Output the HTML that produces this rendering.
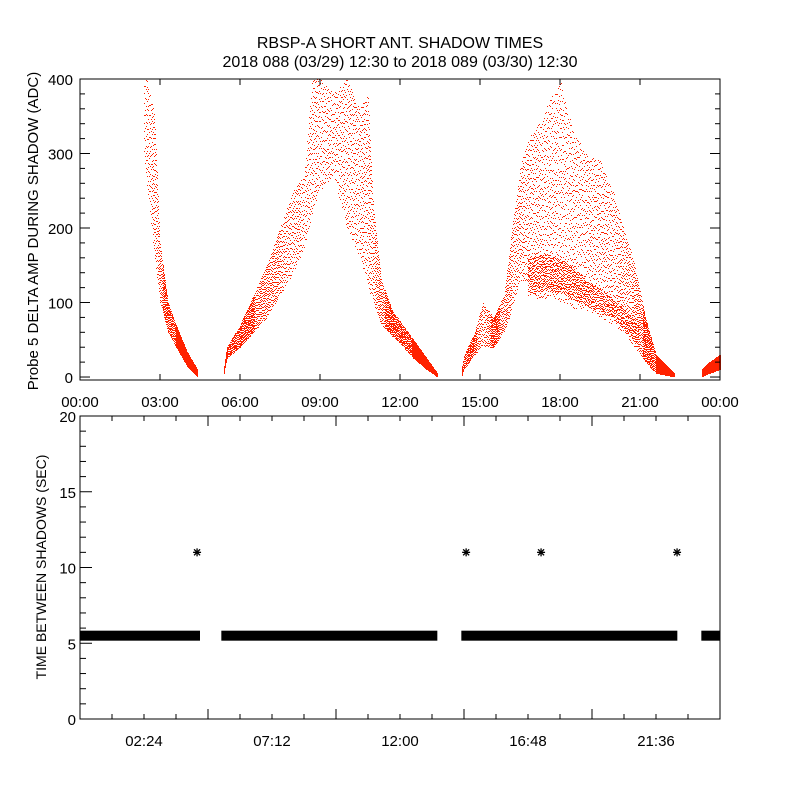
<!DOCTYPE html>
<html><head><meta charset="utf-8">
<style>
html,body{margin:0;padding:0;background:#fff;}
svg text{font-family:"Liberation Sans",sans-serif;fill:#000;}
#topPanel rect{shape-rendering:crispEdges;}
</style></head>
<body>
<svg id="chart" width="800" height="800" viewBox="0 0 800 800" xmlns="http://www.w3.org/2000/svg">
<rect x="0" y="0" width="800" height="800" fill="#fff"/>
<text x="400" y="48" font-size="16" text-anchor="middle">RBSP-A SHORT ANT. SHADOW TIMES</text>
<text x="400" y="67" font-size="16" text-anchor="middle">2018 088 (03/29) 12:30 to 2018 089 (03/30) 12:30</text>
<g id="topPanel"></g>
<g id="botPanel"></g>
</svg>
<script>
// ---- top panel data: envelope per segment (hours, low, high, density 0..1)
const seg1Hours=[2.4,2.5,2.8,3.0,3.3,3.6,4.0,4.4];
const seg1Low=[300,260,160,100,60,40,15,0];
const seg1High=[400,400,350,180,100,70,35,10];
const seg1Dens=[0.35,0.4,0.45,0.6,0.85,0.9,0.95,0.95];
const seg2Hours=[5.4,5.5,6.0,6.5,7.0,7.5,8.0,8.4,8.7,9.0,9.5,10.0,10.5,10.8,11.0,11.3,11.7,12.0,12.5,13.0,13.4];
const seg2Low=[5,25,40,60,80,110,140,170,220,250,270,200,160,120,100,70,55,45,25,10,0];
const seg2High=[15,40,70,110,150,200,250,270,400,400,380,400,360,380,230,130,90,75,50,25,5];
const seg2Dens=[0.95,0.9,0.8,0.7,0.6,0.52,0.45,0.42,0.38,0.38,0.38,0.38,0.4,0.42,0.5,0.65,0.8,0.85,0.9,0.95,0.95];
const seg3Hours=[14.3,14.4,14.8,15.1,15.5,15.9,16.2,16.5,16.8,17.2,17.6,18.0,18.5,19.0,19.5,20.0,20.4,20.8,21.2,21.6,22.3];
const seg3Low=[0,10,30,40,40,60,90,130,130,100,110,100,90,90,80,70,60,40,20,5,0];
const seg3High=[10,30,60,100,80,110,200,280,320,340,370,400,330,300,290,250,200,150,80,30,5];
const seg3Dens=[0.95,0.85,0.75,0.5,0.75,0.65,0.5,0.45,0.4,0.38,0.36,0.34,0.36,0.38,0.4,0.42,0.45,0.55,0.75,0.9,0.95];
const coreHours=[16.8,17.5,18.2,19.0,19.8,20.5,21.0];
const coreLow=[110,115,110,95,85,60,40];
const coreHigh=[160,165,155,130,110,90,65];
const seg4Hours=[23.3,23.6,24.0];
const seg4Low=[0,5,10];
const seg4High=[10,20,30];
const seg4Dens=[0.95,0.9,0.9];
const topYTicks=[0,100,200,300,400];
const topXLabels=["00:00","03:00","06:00","09:00","12:00","15:00","18:00","21:00","00:00"];
// ---- bottom panel data
const bandStart=[0,5.3,14.3,23.3];
const bandEnd=[4.5,13.4,22.4,24];
const bandValue=[5.5,5.5,5.5,5.5];
const starHours=[4.39,14.48,17.29,22.39];
const starValues=[11,11,11,11];
const botYTicks=[0,5,10,15,20];
const botXLabelHours=[2.4,7.2,12,16.8,21.6];
const botXLabels=["02:24","07:12","12:00","16:48","21:36"];

const NS="http://www.w3.org/2000/svg";
function mk(parent,tag,attrs){const e=document.createElementNS(NS,tag);for(const k in attrs)e.setAttribute(k,attrs[k]);parent.appendChild(e);return e;}
const X0=80,X1=720;
const xs=h=>X0+(X1-X0)*h/24;
const tY0=380,tY1=79,tVmin=-4,tVmax=400;
const ty=v=>tY0-(v-tVmin)*(tY0-tY1)/(tVmax-tVmin);
const bY0=719,bY1=416;
const by=v=>bY0-v*(bY0-bY1)/20;
const RED="#ff2200";

const topG=document.getElementById('topPanel');
const botG=document.getElementById('botPanel');

function interp(hs,arr,h){for(let i=0;i<hs.length-1;i++){if(h>=hs[i]&&h<=hs[i+1]){const t=(h-hs[i])/(hs[i+1]-hs[i]||1);return arr[i]+t*(arr[i+1]-arr[i]);}}return null;}
function hash(a,b){let n=(a*374761393+b*668265263)>>>0;n=((n^(n>>>13))*1274126177)>>>0;return (n^(n>>>16))>>>0;}
function drawSeg(hs,lo,hi,de,name){
  const g=mk(topG,'g',{});
  
  
  const xa=Math.ceil(xs(hs[0])),xb=Math.floor(xs(hs[hs.length-1]));
  for(let x=xa;x<=xb;x++){
    const h=(x-X0)*24/(X1-X0);
    const l=interp(hs,lo,h),u=interp(hs,hi,h),d=interp(hs,de,h);
    if(l===null)continue;
    const yT=ty(Math.min(u,400)),yB=ty(l);
    const step=Math.max(1,Math.round(1.2/(d*d)));
    let y=Math.round(yT)+(hash(x,7)%step);
    while(y<=yB){
      const r=mk(g,'rect',{x:x,y:y,width:1,height:1,fill:RED});
      
      
      y+=step+(step>1?(hash(x,y)%step)-Math.floor(step/2):0);
      if(step>1&&y<=Math.round(yT))y=Math.round(yT)+1;
    }
  }
}
drawSeg(seg1Hours,seg1Low,seg1High,seg1Dens,'segment-1-points');
drawSeg(seg2Hours,seg2Low,seg2High,seg2Dens,'segment-2-points');
drawSeg(seg3Hours,seg3Low,seg3High,seg3Dens,'segment-3-points');
drawSeg(seg4Hours,seg4Low,seg4High,seg4Dens,'segment-4-points');
drawSeg(coreHours,coreLow,coreHigh,coreHours.map(()=>0.6),'segment-3-core-points');

// top axes box
const tb=mk(topG,'rect',{x:X0,y:tY1,width:X1-X0,height:tY0-tY1,fill:'none',stroke:'#000','stroke-width':1});


for(let v=0;v<=400;v+=20){
  const y=ty(v),len=(v%100===0)?10:5;
  mk(topG,'line',{x1:X0,x2:X0+len,y1:y,y2:y,stroke:'#000'});
  mk(topG,'line',{x1:X1,x2:X1-len,y1:y,y2:y,stroke:'#000'});
}
topYTicks.forEach(v=>{
  const t=mk(topG,'text',{x:73,y:ty(v)+6,'font-size':15,'text-anchor':'end'});
  t.textContent=v;
  
  
});
topXLabels.forEach((s,i)=>{
  const x=xs(i*3);
  mk(topG,'line',{x1:x,x2:x,y1:tY0,y2:tY0-6,stroke:'#000'});
  mk(topG,'line',{x1:x,x2:x,y1:tY1,y2:tY1+6,stroke:'#000'});
  const t=mk(topG,'text',{x:x,y:407,'font-size':15,'text-anchor':'middle'});
  t.textContent=s;
  
  
});
const tyl=mk(topG,'text',{x:0,y:0,'font-size':15,'text-anchor':'middle',transform:'translate(38,231) rotate(-90)'});
tyl.textContent='Probe 5 DELTA AMP DURING SHADOW (ADC)';



// bottom panel
bandStart.forEach((s,i)=>{
  const r=mk(botG,'rect',{x:xs(s),y:by(bandValue[i])-5,width:xs(bandEnd[i])-xs(s),height:10,fill:'#000'});
  
  
});
starHours.forEach((h,i)=>{
  const cx=xs(h),cy=by(starValues[i]);
  const g=mk(botG,'g',{stroke:'#000','stroke-width':1.3});
  
  
  mk(g,'line',{x1:cx-4,x2:cx+4,y1:cy,y2:cy});
  mk(g,'line',{x1:cx,x2:cx,y1:cy-4,y2:cy+4});
  mk(g,'line',{x1:cx-3,x2:cx+3,y1:cy-3,y2:cy+3});
  mk(g,'line',{x1:cx-3,x2:cx+3,y1:cy+3,y2:cy-3});
});
const bb=mk(botG,'rect',{x:X0,y:bY1,width:X1-X0,height:bY0-bY1,fill:'none',stroke:'#000','stroke-width':1});


for(let v=0;v<=20;v++){
  const y=by(v),len=(v%5===0)?12:6;
  mk(botG,'line',{x1:X0,x2:X0+len,y1:y,y2:y,stroke:'#000'});
}
for(let k=1;k<20;k++){
  const x=xs(k*1.2),len=(k%4===0)?10:5;
  mk(botG,'line',{x1:x,x2:x,y1:bY0,y2:bY0-len,stroke:'#000'});
  mk(botG,'line',{x1:x,x2:x,y1:bY1,y2:bY1+len,stroke:'#000'});
}
botYTicks.forEach(v=>{
  const t=mk(botG,'text',{x:76,y:by(v)+6,'font-size':15,'text-anchor':'end'});
  t.textContent=v;
  
  
});
botXLabelHours.forEach((h,i)=>{
  const t=mk(botG,'text',{x:xs(h),y:746,'font-size':15,'text-anchor':'middle'});
  t.textContent=botXLabels[i];
  
  
});
const byl=mk(botG,'text',{x:0,y:0,'font-size':14,'text-anchor':'middle',transform:'translate(46,567) rotate(-90)'});
byl.textContent='TIME BETWEEN SHADOWS (SEC)';


</script>
</body></html>
